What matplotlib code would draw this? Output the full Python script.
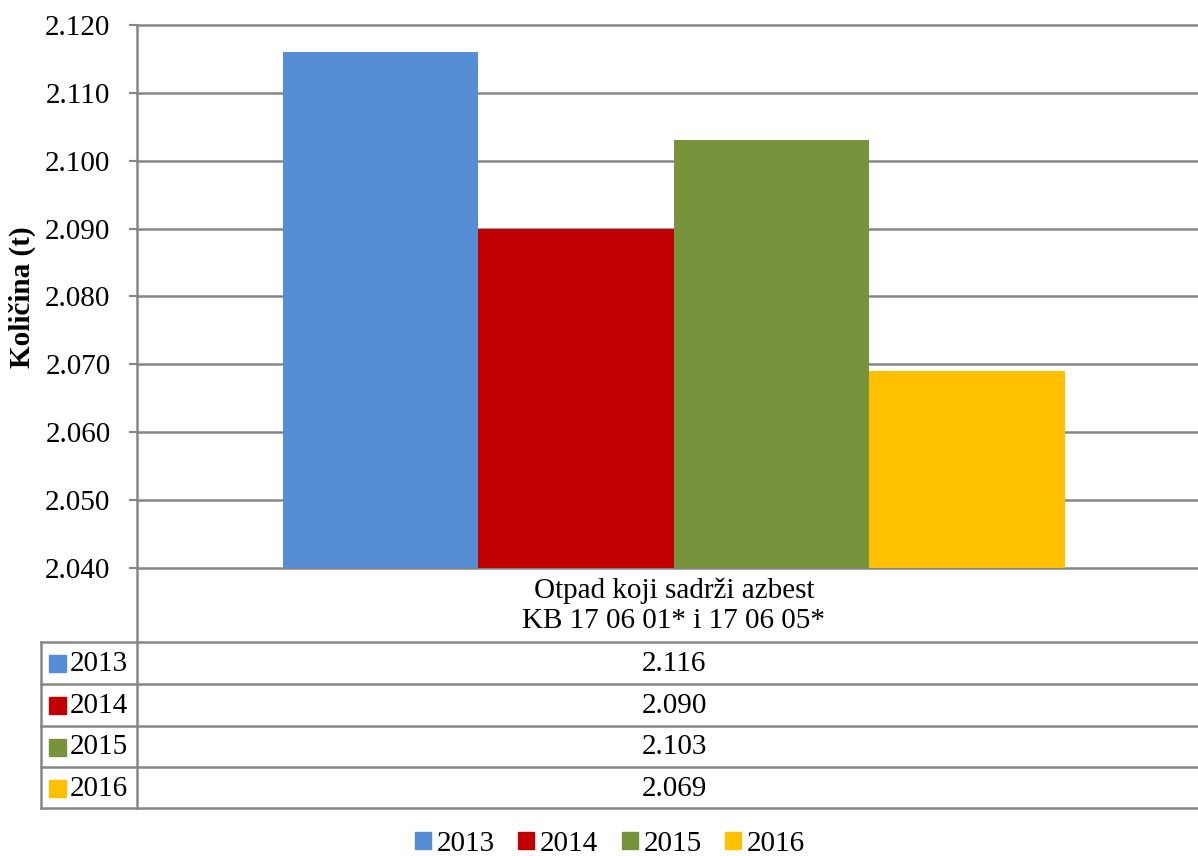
import matplotlib.pyplot as plt
from matplotlib.patches import Patch
from matplotlib.ticker import FuncFormatter

# --- data ---
years = ['2013', '2014', '2015', '2016']
values = [2116, 2090, 2103, 2069]
colors = ['#558ED5', '#C00000', '#77933C', '#FFC000']
category = 'Otpad koji sadrži azbest\nKB 17 06 01* i 17 06 05*'
y_ticks = [2040, 2050, 2060, 2070, 2080, 2090, 2100, 2110, 2120]
y_label = 'Količina (t)'

plt.rcParams['font.family'] = ['Liberation Serif', 'DejaVu Serif']
grid_c = '#868686'
FS = 21

W, H = 1198, 856
fig = plt.figure(figsize=(W / 100, H / 100), dpi=100)

# plot area in pixel coords
px_l, px_r, px_t, px_b = 137, 1198, 25, 568
ax = fig.add_axes([px_l / W, 1 - px_b / H, (px_r - px_l) / W, (px_b - px_t) / H])

bw = 0.1843
for i, (yr, v, c) in enumerate(zip(years, values, colors)):
    ax.bar((i - 1.5) * bw, v - y_ticks[0], width=bw, bottom=y_ticks[0],
           color=c, zorder=3)

ax.set_xlim(-0.506, 0.494)
ax.set_ylim(y_ticks[0], y_ticks[-1])
ax.set_yticks(y_ticks)
ax.yaxis.set_major_formatter(FuncFormatter(
    lambda v, p: f'{int(v):,}'.replace(',', '.')))
ax.set_xticks([])
ax.tick_params(axis='y', length=6, width=1.5, color=grid_c, labelsize=FS, pad=13)
ax.grid(axis='y', color=grid_c, linewidth=1.8, zorder=0)
for gl in ax.get_ygridlines():
    gl.set_clip_on(False)
for s in ['top', 'right', 'bottom']:
    ax.spines[s].set_visible(False)
ax.spines['left'].set_color(grid_c)
ax.spines['left'].set_linewidth(1.8)
fig.text(22 / W, 1 - 297 / H, y_label, rotation=90, ha='center', va='center',
         fontsize=FS, fontweight='bold')

# data table below the plot, drawn in pixel coords
tab = fig.add_axes([0, 0, 1, 1])
tab.set_xlim(0, W)
tab.set_ylim(H, 0)
tab.axis('off')

row_edges = [642, 684, 726, 767, 808]
lw = 1.8
tab.plot([px_l, px_l], [px_b, row_edges[-1]], color=grid_c, lw=lw)
tab.plot([41, 41], [row_edges[0], row_edges[-1]], color=grid_c, lw=lw)
for y in row_edges:
    tab.plot([41, W], [y, y], color=grid_c, lw=lw)

cx = 674
tab.text(cx, (px_b + row_edges[0]) / 2 + 1, category, ha='center', va='center',
         fontsize=FS, linespacing=1.2)

for i, (yr, v, c) in enumerate(zip(years, values, colors)):
    yc = (row_edges[i] + row_edges[i + 1]) / 2
    tab.add_patch(plt.Rectangle((49, yc - 8), 17, 17, color=c))
    tab.text(70, yc + 1, yr, ha='left', va='center', fontsize=FS)
    tab.text(cx, yc + 1, f'{v:,}'.replace(',', '.'), ha='center', va='center',
             fontsize=FS)

handles = [Patch(color=c, label=yr) for yr, c in zip(years, colors)]
fig.legend(handles=handles, loc='center', bbox_to_anchor=(610 / W, 1 - 844 / H),
           ncol=4, frameon=False, fontsize=FS, handlelength=0.55,
           handleheight=0.55, handletextpad=0.2, columnspacing=0.8,
           borderpad=0.1)

fig.savefig('out.png', dpi=100)
